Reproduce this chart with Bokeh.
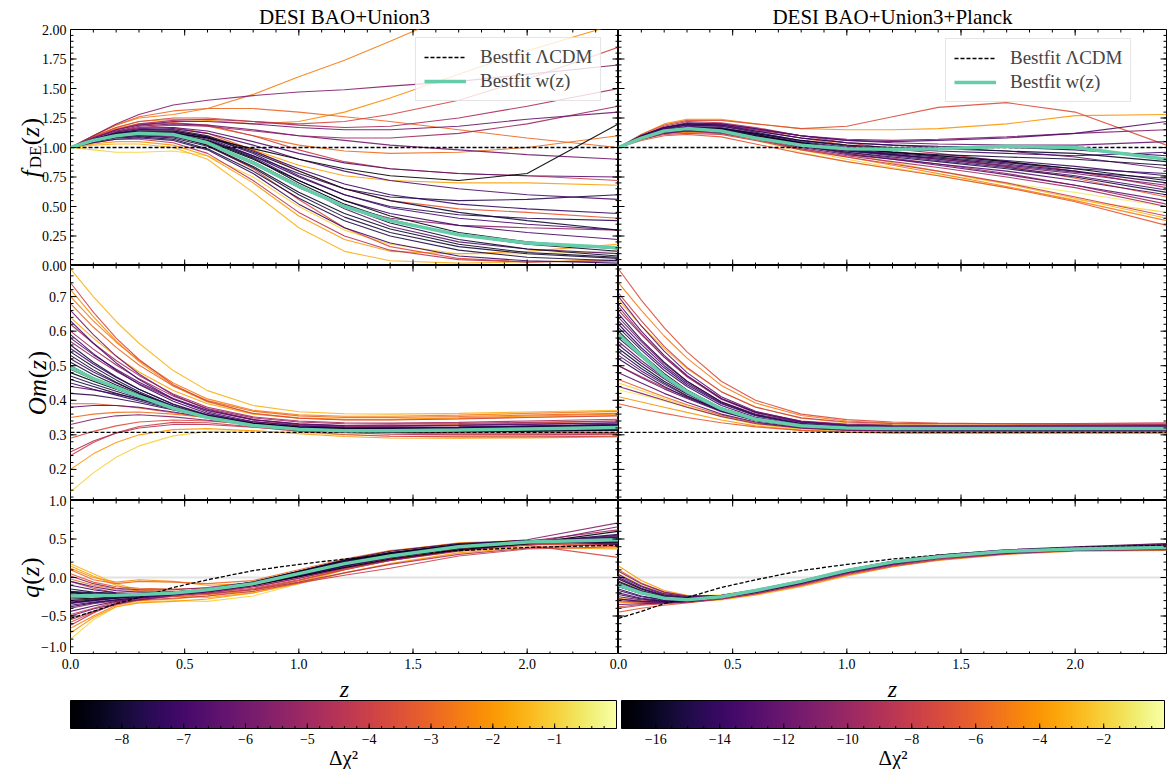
import numpy as np
from bokeh.plotting import figure
from bokeh.models import (Range1d, Legend, LegendItem, ColumnDataSource, LinearColorMapper, Span)
from bokeh.core.properties import value
from bokeh.palettes import Inferno256
from bokeh.layouts import column, row
from bokeh.transform import linear_cmap
from bokeh.embed import file_html
from bokeh.resources import INLINE

SERIF = "Liberation Serif"
TEAL = "#66CDAA"

# redshift sampling shared by every curve
z_grid = [0.0, 0.1, 0.2, 0.3, 0.45, 0.6, 0.8, 1.0, 1.2, 1.4, 1.7, 2.0, 2.4]

# ---------------- DESI BAO+Union3 ----------------
dchi2_u3 = [-8.6, -8.3, -8.0, -7.8, -7.5, -7.2, -8.8, -6.8, -6.5, -6.0, -5.6, -5.0, -4.5, -3.8,
            -3.0, -2.5, -1.5, -2.0, -1.0, -4.0, -7.0, -6.2, -3.3, -5.3, -8.1, -7.6, -8.4, -7.9,
            -7.3, -6.6, -2.2, -3.6, -4.8, -2.8, -6.9, -1.8]

fde_u3 = [
    [1.00, 1.06, 1.10, 1.12, 1.11, 1.05, 0.90, 0.72, 0.55, 0.42, 0.28, 0.20, 0.14],
    [1.00, 1.05, 1.09, 1.11, 1.10, 1.02, 0.84, 0.62, 0.44, 0.31, 0.18, 0.11, 0.07],
    [1.00, 1.07, 1.12, 1.14, 1.14, 1.09, 0.96, 0.80, 0.65, 0.55, 0.45, 0.38, 0.30],
    [1.00, 1.05, 1.08, 1.09, 1.07, 0.99, 0.80, 0.57, 0.38, 0.25, 0.13, 0.07, 0.04],
    [1.00, 1.06, 1.11, 1.13, 1.13, 1.08, 0.93, 0.75, 0.60, 0.50, 0.43, 0.40, 0.38],
    [1.00, 1.04, 1.07, 1.08, 1.06, 0.98, 0.78, 0.52, 0.32, 0.19, 0.08, 0.04, 0.02],
    [1.00, 1.06, 1.10, 1.12, 1.12, 1.08, 0.99, 0.90, 0.82, 0.76, 0.72, 0.78, 1.20],
    [1.00, 1.07, 1.12, 1.15, 1.16, 1.12, 1.02, 0.90, 0.80, 0.72, 0.65, 0.60, 0.56],
    [1.00, 1.05, 1.09, 1.10, 1.09, 1.03, 0.88, 0.68, 0.48, 0.33, 0.20, 0.14, 0.10],
    [1.00, 1.08, 1.14, 1.18, 1.20, 1.19, 1.15, 1.10, 1.06, 1.02, 0.98, 0.94, 0.90],
    [1.00, 1.10, 1.20, 1.28, 1.36, 1.40, 1.44, 1.47, 1.49, 1.52, 1.56, 1.62, 1.70],
    [1.00, 1.07, 1.13, 1.17, 1.19, 1.18, 1.14, 1.10, 1.08, 1.08, 1.12, 1.20, 1.35],
    [1.00, 1.04, 1.07, 1.07, 1.04, 0.95, 0.72, 0.45, 0.25, 0.13, 0.05, 0.03, 0.04],
    [1.00, 1.09, 1.17, 1.22, 1.25, 1.25, 1.22, 1.20, 1.22, 1.28, 1.40, 1.58, 1.85],
    [1.00, 1.10, 1.19, 1.26, 1.31, 1.33, 1.33, 1.30, 1.26, 1.22, 1.15, 1.08, 1.00],
    [1.00, 1.10, 1.19, 1.25, 1.28, 1.33, 1.45, 1.60, 1.74, 1.90, 2.15, 2.40, 2.70],
    [1.00, 1.02, 1.03, 1.03, 1.00, 0.90, 0.62, 0.32, 0.12, 0.04, 0.02, 0.03, 0.05],
    [1.00, 1.03, 1.05, 1.05, 1.02, 0.93, 0.70, 0.42, 0.22, 0.12, 0.10, 0.12, 0.18],
    [1.00, 0.98, 0.96, 0.96, 0.97, 0.93, 0.75, 0.50, 0.30, 0.18, 0.10, 0.10, 0.12],
    [1.00, 1.08, 1.15, 1.19, 1.21, 1.19, 1.10, 0.98, 0.88, 0.82, 0.78, 0.76, 0.72],
    [1.00, 1.06, 1.11, 1.13, 1.13, 1.07, 0.92, 0.72, 0.55, 0.44, 0.34, 0.28, 0.22],
    [1.00, 1.08, 1.15, 1.19, 1.22, 1.22, 1.20, 1.17, 1.15, 1.15, 1.18, 1.24, 1.30],
    [1.00, 1.08, 1.14, 1.17, 1.17, 1.12, 0.98, 0.80, 0.65, 0.55, 0.48, 0.45, 0.40],
    [1.00, 1.06, 1.10, 1.12, 1.10, 1.03, 0.86, 0.66, 0.50, 0.40, 0.34, 0.32, 0.30],
    [1.00, 1.05, 1.09, 1.11, 1.10, 1.04, 0.88, 0.68, 0.50, 0.36, 0.22, 0.14, 0.08],
    [1.00, 1.06, 1.10, 1.12, 1.11, 1.06, 0.93, 0.78, 0.65, 0.58, 0.55, 0.56, 0.60],
    [1.00, 1.06, 1.11, 1.13, 1.12, 1.06, 0.91, 0.70, 0.52, 0.39, 0.26, 0.18, 0.12],
    [1.00, 1.05, 1.09, 1.10, 1.08, 1.01, 0.83, 0.60, 0.41, 0.28, 0.16, 0.10, 0.06],
    [1.00, 1.07, 1.12, 1.15, 1.15, 1.10, 0.97, 0.82, 0.69, 0.60, 0.52, 0.48, 0.44],
    [1.00, 1.07, 1.13, 1.16, 1.17, 1.14, 1.05, 0.95, 0.87, 0.82, 0.78, 0.76, 0.75],
    [1.00, 1.09, 1.17, 1.22, 1.24, 1.23, 1.20, 1.22, 1.30, 1.42, 1.62, 1.82, 2.05],
    [1.00, 1.06, 1.10, 1.12, 1.10, 1.02, 0.82, 0.56, 0.32, 0.16, 0.06, 0.03, 0.04],
    [1.00, 1.08, 1.15, 1.20, 1.23, 1.24, 1.22, 1.19, 1.17, 1.18, 1.25, 1.35, 1.50],
    [1.00, 1.09, 1.16, 1.20, 1.21, 1.18, 1.10, 1.02, 0.97, 0.95, 0.96, 1.00, 1.10],
    [1.00, 1.06, 1.11, 1.14, 1.14, 1.09, 0.95, 0.76, 0.60, 0.49, 0.40, 0.35, 0.30],
    [1.00, 1.07, 1.12, 1.15, 1.15, 1.10, 0.98, 0.85, 0.76, 0.72, 0.70, 0.70, 0.68],
]

om_u3 = [
    [0.50, 0.465, 0.438, 0.413, 0.378, 0.350, 0.326, 0.315, 0.311, 0.311, 0.313, 0.316, 0.320],
    [0.53, 0.488, 0.452, 0.420, 0.380, 0.350, 0.325, 0.313, 0.308, 0.307, 0.308, 0.310, 0.313],
    [0.46, 0.440, 0.420, 0.402, 0.376, 0.352, 0.332, 0.322, 0.318, 0.318, 0.320, 0.323, 0.327],
    [0.56, 0.510, 0.468, 0.432, 0.388, 0.356, 0.330, 0.318, 0.312, 0.310, 0.310, 0.312, 0.315],
    [0.42, 0.415, 0.405, 0.393, 0.372, 0.352, 0.334, 0.324, 0.320, 0.320, 0.322, 0.325, 0.329],
    [0.59, 0.535, 0.487, 0.446, 0.397, 0.362, 0.334, 0.320, 0.314, 0.312, 0.313, 0.315, 0.318],
    [0.48, 0.455, 0.432, 0.410, 0.380, 0.355, 0.333, 0.322, 0.317, 0.315, 0.314, 0.315, 0.316],
    [0.63, 0.565, 0.508, 0.460, 0.404, 0.366, 0.338, 0.326, 0.321, 0.320, 0.322, 0.325, 0.330],
    [0.38, 0.385, 0.385, 0.380, 0.366, 0.350, 0.333, 0.322, 0.316, 0.314, 0.314, 0.316, 0.318],
    [0.66, 0.590, 0.528, 0.476, 0.415, 0.374, 0.344, 0.331, 0.326, 0.325, 0.327, 0.330, 0.334],
    [0.33, 0.345, 0.355, 0.358, 0.352, 0.342, 0.330, 0.322, 0.318, 0.317, 0.318, 0.321, 0.325],
    [0.60, 0.548, 0.502, 0.462, 0.412, 0.376, 0.349, 0.337, 0.332, 0.331, 0.333, 0.336, 0.340],
    [0.25, 0.282, 0.305, 0.320, 0.330, 0.330, 0.322, 0.313, 0.306, 0.302, 0.300, 0.300, 0.302],
    [0.74, 0.655, 0.580, 0.518, 0.445, 0.397, 0.362, 0.348, 0.343, 0.343, 0.346, 0.350, 0.355],
    [0.68, 0.612, 0.553, 0.502, 0.441, 0.399, 0.368, 0.355, 0.350, 0.350, 0.353, 0.357, 0.362],
    [0.70, 0.630, 0.568, 0.515, 0.450, 0.404, 0.371, 0.358, 0.354, 0.354, 0.357, 0.362, 0.368],
    [0.78, 0.700, 0.628, 0.565, 0.486, 0.428, 0.385, 0.367, 0.361, 0.360, 0.362, 0.366, 0.371],
    [0.20, 0.245, 0.278, 0.300, 0.315, 0.318, 0.312, 0.303, 0.295, 0.291, 0.290, 0.291, 0.294],
    [0.135, 0.190, 0.235, 0.268, 0.297, 0.310, 0.312, 0.306, 0.300, 0.297, 0.296, 0.297, 0.300],
    [0.24, 0.278, 0.306, 0.324, 0.336, 0.335, 0.323, 0.310, 0.301, 0.296, 0.294, 0.294, 0.296],
    [0.52, 0.482, 0.450, 0.420, 0.384, 0.356, 0.332, 0.320, 0.315, 0.313, 0.314, 0.316, 0.319],
    [0.44, 0.430, 0.418, 0.404, 0.380, 0.358, 0.338, 0.327, 0.322, 0.321, 0.322, 0.325, 0.329],
    [0.39, 0.390, 0.385, 0.378, 0.364, 0.349, 0.333, 0.321, 0.312, 0.306, 0.302, 0.302, 0.304],
    [0.57, 0.525, 0.484, 0.448, 0.403, 0.370, 0.343, 0.330, 0.324, 0.322, 0.323, 0.326, 0.330],
    [0.51, 0.474, 0.444, 0.417, 0.380, 0.352, 0.328, 0.317, 0.312, 0.311, 0.312, 0.315, 0.318],
    [0.47, 0.447, 0.426, 0.406, 0.377, 0.352, 0.331, 0.320, 0.316, 0.315, 0.316, 0.319, 0.323],
    [0.49, 0.460, 0.435, 0.411, 0.378, 0.351, 0.328, 0.317, 0.313, 0.312, 0.313, 0.316, 0.319],
    [0.54, 0.497, 0.459, 0.425, 0.383, 0.352, 0.327, 0.315, 0.310, 0.309, 0.310, 0.312, 0.315],
    [0.45, 0.432, 0.415, 0.398, 0.374, 0.352, 0.333, 0.323, 0.319, 0.318, 0.320, 0.323, 0.327],
    [0.58, 0.532, 0.490, 0.452, 0.405, 0.371, 0.344, 0.332, 0.327, 0.326, 0.328, 0.331, 0.335],
    [0.72, 0.642, 0.572, 0.512, 0.441, 0.395, 0.362, 0.349, 0.345, 0.345, 0.349, 0.354, 0.360],
    [0.29, 0.310, 0.326, 0.337, 0.343, 0.340, 0.330, 0.320, 0.312, 0.307, 0.305, 0.305, 0.307],
    [0.62, 0.565, 0.515, 0.472, 0.418, 0.380, 0.352, 0.340, 0.335, 0.334, 0.336, 0.340, 0.345],
    [0.35, 0.360, 0.365, 0.366, 0.360, 0.350, 0.338, 0.330, 0.326, 0.326, 0.330, 0.334, 0.340],
    [0.55, 0.505, 0.466, 0.432, 0.389, 0.358, 0.333, 0.321, 0.316, 0.314, 0.315, 0.318, 0.322],
    [0.64, 0.580, 0.527, 0.482, 0.428, 0.390, 0.360, 0.348, 0.344, 0.344, 0.347, 0.351, 0.356],
]

q_u3 = [
    [-0.26, -0.25, -0.24, -0.22, -0.20, -0.16, -0.08, 0.05, 0.19, 0.30, 0.41, 0.46, 0.49],
    [-0.20, -0.22, -0.22, -0.21, -0.19, -0.15, -0.06, 0.08, 0.22, 0.32, 0.42, 0.47, 0.47],
    [-0.32, -0.29, -0.27, -0.24, -0.21, -0.17, -0.09, 0.03, 0.16, 0.27, 0.38, 0.44, 0.50],
    [-0.15, -0.19, -0.21, -0.21, -0.20, -0.16, -0.07, 0.07, 0.21, 0.32, 0.43, 0.48, 0.45],
    [-0.38, -0.33, -0.29, -0.26, -0.22, -0.18, -0.10, 0.02, 0.15, 0.26, 0.38, 0.45, 0.56],
    [-0.10, -0.16, -0.20, -0.21, -0.21, -0.17, -0.07, 0.08, 0.23, 0.34, 0.44, 0.48, 0.43],
    [-0.28, -0.27, -0.25, -0.23, -0.20, -0.17, -0.10, 0.01, 0.13, 0.24, 0.36, 0.44, 0.60],
    [-0.44, -0.37, -0.31, -0.27, -0.22, -0.17, -0.08, 0.04, 0.17, 0.28, 0.40, 0.47, 0.52],
    [-0.05, -0.12, -0.17, -0.19, -0.19, -0.16, -0.08, 0.06, 0.20, 0.31, 0.42, 0.48, 0.52],
    [-0.50, -0.41, -0.34, -0.29, -0.23, -0.18, -0.10, 0.01, 0.13, 0.23, 0.35, 0.44, 0.66],
    [0.02, -0.08, -0.14, -0.16, -0.16, -0.13, -0.06, 0.06, 0.20, 0.31, 0.42, 0.49, 0.71],
    [-0.55, -0.44, -0.35, -0.29, -0.24, -0.20, -0.12, -0.01, 0.12, 0.23, 0.36, 0.43, 0.47],
    [-0.62, -0.46, -0.33, -0.26, -0.22, -0.21, -0.16, -0.06, 0.06, 0.17, 0.30, 0.38, 0.44],
    [-0.05, -0.14, -0.20, -0.22, -0.22, -0.20, -0.14, -0.03, 0.10, 0.22, 0.34, 0.42, 0.26],
    [0.10, -0.03, -0.08, -0.05, -0.06, -0.08, -0.04, 0.10, 0.24, 0.35, 0.44, 0.47, 0.42],
    [-0.66, -0.50, -0.36, -0.30, -0.28, -0.24, -0.16, -0.04, 0.11, 0.24, 0.37, 0.44, 0.40],
    [0.18, 0.05, -0.08, -0.16, -0.20, -0.22, -0.18, -0.04, 0.12, 0.26, 0.44, 0.48, 0.46],
    [-0.72, -0.52, -0.38, -0.33, -0.31, -0.28, -0.20, -0.08, 0.06, 0.18, 0.32, 0.39, 0.37],
    [-0.80, -0.55, -0.38, -0.32, -0.30, -0.31, -0.24, -0.08, 0.10, 0.22, 0.34, 0.40, 0.38],
    [-0.48, -0.40, -0.32, -0.29, -0.27, -0.24, -0.18, -0.07, 0.03, 0.12, 0.28, 0.37, 0.40],
    [-0.22, -0.23, -0.23, -0.22, -0.20, -0.16, -0.07, 0.06, 0.20, 0.31, 0.42, 0.47, 0.48],
    [-0.34, -0.30, -0.27, -0.25, -0.22, -0.18, -0.10, 0.03, 0.17, 0.28, 0.39, 0.46, 0.54],
    [0.05, -0.06, -0.12, -0.14, -0.15, -0.14, -0.08, 0.05, 0.18, 0.30, 0.41, 0.46, 0.44],
    [-0.40, -0.34, -0.30, -0.27, -0.23, -0.19, -0.12, -0.01, 0.12, 0.22, 0.35, 0.44, 0.50],
    [-0.24, -0.24, -0.23, -0.22, -0.20, -0.16, -0.08, 0.05, 0.18, 0.29, 0.40, 0.46, 0.50],
    [-0.18, -0.20, -0.21, -0.21, -0.19, -0.15, -0.07, 0.07, 0.20, 0.31, 0.41, 0.46, 0.47],
    [-0.25, -0.24, -0.235, -0.22, -0.20, -0.16, -0.08, 0.05, 0.19, 0.30, 0.40, 0.46, 0.49],
    [-0.19, -0.21, -0.22, -0.21, -0.20, -0.15, -0.06, 0.08, 0.22, 0.32, 0.42, 0.47, 0.46],
    [-0.33, -0.30, -0.27, -0.25, -0.22, -0.18, -0.10, 0.02, 0.15, 0.26, 0.38, 0.45, 0.53],
    [-0.36, -0.32, -0.29, -0.26, -0.22, -0.18, -0.10, 0.02, 0.15, 0.26, 0.38, 0.45, 0.55],
    [0.12, 0.00, -0.06, -0.03, -0.05, -0.10, -0.08, 0.06, 0.22, 0.34, 0.45, 0.48, 0.45],
    [-0.58, -0.45, -0.34, -0.28, -0.25, -0.22, -0.15, -0.04, 0.10, 0.22, 0.36, 0.43, 0.42],
    [-0.30, -0.28, -0.26, -0.24, -0.21, -0.18, -0.11, 0.01, 0.14, 0.25, 0.38, 0.47, 0.62],
    [-0.02, -0.10, -0.15, -0.17, -0.18, -0.16, -0.10, 0.03, 0.17, 0.28, 0.40, 0.47, 0.50],
    [-0.30, -0.28, -0.26, -0.24, -0.21, -0.17, -0.09, 0.03, 0.16, 0.27, 0.39, 0.45, 0.51],
    [0.15, 0.02, -0.10, -0.18, -0.24, -0.26, -0.20, -0.06, 0.10, 0.24, 0.40, 0.47, 0.47],
]

best_fde_u3 = [1.00, 1.06, 1.10, 1.12, 1.11, 1.04, 0.87, 0.67, 0.50, 0.38, 0.26, 0.19, 0.15]
best_om_u3 = [0.495, 0.463, 0.437, 0.412, 0.377, 0.350, 0.327, 0.316, 0.312, 0.312, 0.314, 0.317, 0.321]
best_q_u3 = [-0.24, -0.235, -0.23, -0.22, -0.20, -0.16, -0.08, 0.05, 0.18, 0.28, 0.40, 0.46, 0.49]

# ---------------- DESI BAO+Union3+Planck ----------------
dchi2_u3p = [-16.5, -15.8, -15.0, -14.5, -14.0, -13.5, -13.0, -12.5, -12.0, -11.5, -11.0, -10.0,
             -9.0, -8.0, -7.0, -6.0, -5.0, -4.0, -3.0, -2.0, -1.0, -15.5, -14.8, -13.8, -12.8,
             -6.5, -14.2, -13.2, -12.2, -9.5]

fde_u3p = [
    [1.00, 1.08, 1.14, 1.16, 1.15, 1.10, 1.04, 0.99, 0.96, 0.93, 0.88, 0.82, 0.72],
    [1.00, 1.09, 1.15, 1.17, 1.16, 1.12, 1.06, 1.02, 1.00, 0.99, 0.97, 0.95, 0.88],
    [1.00, 1.08, 1.13, 1.15, 1.13, 1.08, 1.01, 0.96, 0.92, 0.88, 0.82, 0.75, 0.62],
    [1.00, 1.10, 1.17, 1.20, 1.19, 1.14, 1.08, 1.04, 1.02, 1.01, 1.00, 0.98, 0.93],
    [1.00, 1.09, 1.15, 1.18, 1.17, 1.12, 1.05, 1.00, 0.96, 0.93, 0.89, 0.84, 0.76],
    [1.00, 1.08, 1.14, 1.16, 1.15, 1.10, 1.03, 0.97, 0.93, 0.89, 0.83, 0.76, 0.64],
    [1.00, 1.10, 1.17, 1.21, 1.20, 1.16, 1.10, 1.06, 1.05, 1.06, 1.08, 1.12, 1.22],
    [1.00, 1.07, 1.12, 1.14, 1.13, 1.08, 1.01, 0.95, 0.90, 0.85, 0.77, 0.68, 0.55],
    [1.00, 1.09, 1.16, 1.19, 1.18, 1.14, 1.08, 1.04, 1.02, 1.00, 0.97, 0.92, 0.82],
    [1.00, 1.08, 1.14, 1.17, 1.16, 1.11, 1.04, 0.98, 0.94, 0.90, 0.84, 0.78, 0.68],
    [1.00, 1.09, 1.16, 1.19, 1.19, 1.15, 1.10, 1.07, 1.06, 1.07, 1.09, 1.12, 1.15],
    [1.00, 1.08, 1.13, 1.15, 1.14, 1.09, 1.02, 0.96, 0.91, 0.86, 0.78, 0.68, 0.52],
    [1.00, 1.10, 1.18, 1.22, 1.21, 1.17, 1.10, 1.04, 0.99, 0.95, 0.88, 0.80, 0.66],
    [1.00, 1.07, 1.11, 1.12, 1.11, 1.06, 0.98, 0.92, 0.86, 0.80, 0.70, 0.58, 0.42],
    [1.00, 1.11, 1.19, 1.23, 1.23, 1.20, 1.16, 1.18, 1.26, 1.34, 1.38, 1.30, 1.02],
    [1.00, 1.10, 1.17, 1.20, 1.19, 1.15, 1.08, 1.02, 0.97, 0.92, 0.84, 0.74, 0.58],
    [1.00, 1.07, 1.12, 1.13, 1.12, 1.07, 0.99, 0.92, 0.85, 0.78, 0.67, 0.55, 0.38],
    [1.00, 1.11, 1.20, 1.24, 1.24, 1.20, 1.16, 1.15, 1.15, 1.16, 1.20, 1.27, 1.28],
    [1.00, 1.09, 1.15, 1.17, 1.16, 1.11, 1.03, 0.95, 0.87, 0.80, 0.69, 0.57, 0.40],
    [1.00, 1.08, 1.13, 1.15, 1.14, 1.08, 0.98, 0.90, 0.83, 0.76, 0.66, 0.56, 0.45],
    [1.00, 1.07, 1.12, 1.13, 1.12, 1.06, 0.96, 0.88, 0.82, 0.77, 0.70, 0.62, 0.50],
    [1.00, 1.09, 1.15, 1.17, 1.16, 1.11, 1.04, 0.99, 0.96, 0.94, 0.92, 0.90, 0.85],
    [1.00, 1.08, 1.13, 1.15, 1.14, 1.09, 1.02, 0.97, 0.94, 0.91, 0.86, 0.80, 0.70],
    [1.00, 1.09, 1.16, 1.19, 1.18, 1.13, 1.06, 1.01, 0.99, 0.97, 0.95, 0.93, 0.96],
    [1.00, 1.08, 1.14, 1.16, 1.15, 1.10, 1.03, 0.98, 0.94, 0.90, 0.85, 0.79, 0.74],
    [1.00, 1.06, 1.10, 1.11, 1.09, 1.03, 0.95, 0.88, 0.82, 0.76, 0.66, 0.54, 0.34],
    [1.00, 1.09, 1.15, 1.17, 1.16, 1.11, 1.04, 0.98, 0.95, 0.92, 0.87, 0.82, 0.78],
    [1.00, 1.08, 1.13, 1.15, 1.13, 1.08, 1.00, 0.94, 0.90, 0.86, 0.80, 0.72, 0.60],
    [1.00, 1.10, 1.17, 1.20, 1.20, 1.16, 1.10, 1.06, 1.04, 1.03, 1.02, 1.02, 1.05],
    [1.00, 1.07, 1.12, 1.14, 1.12, 1.07, 0.99, 0.93, 0.88, 0.83, 0.75, 0.66, 0.50],
]

om_u3p = [
    [0.60, 0.535, 0.478, 0.430, 0.378, 0.347, 0.327, 0.320, 0.318, 0.318, 0.318, 0.318, 0.318],
    [0.55, 0.500, 0.455, 0.418, 0.372, 0.343, 0.325, 0.318, 0.316, 0.316, 0.316, 0.316, 0.316],
    [0.65, 0.575, 0.510, 0.455, 0.395, 0.358, 0.333, 0.324, 0.321, 0.320, 0.320, 0.320, 0.321],
    [0.52, 0.478, 0.440, 0.408, 0.368, 0.342, 0.324, 0.317, 0.315, 0.315, 0.315, 0.315, 0.315],
    [0.62, 0.552, 0.494, 0.445, 0.390, 0.355, 0.331, 0.322, 0.320, 0.319, 0.319, 0.319, 0.320],
    [0.68, 0.600, 0.530, 0.472, 0.405, 0.365, 0.337, 0.327, 0.324, 0.323, 0.323, 0.323, 0.324],
    [0.48, 0.450, 0.420, 0.394, 0.360, 0.337, 0.321, 0.315, 0.313, 0.313, 0.313, 0.313, 0.313],
    [0.70, 0.615, 0.542, 0.480, 0.410, 0.368, 0.339, 0.329, 0.326, 0.325, 0.325, 0.326, 0.327],
    [0.57, 0.515, 0.466, 0.425, 0.376, 0.345, 0.326, 0.319, 0.317, 0.317, 0.317, 0.317, 0.317],
    [0.64, 0.570, 0.506, 0.455, 0.396, 0.360, 0.336, 0.327, 0.324, 0.323, 0.323, 0.323, 0.324],
    [0.44, 0.420, 0.400, 0.380, 0.353, 0.333, 0.319, 0.313, 0.311, 0.311, 0.311, 0.311, 0.311],
    [0.66, 0.590, 0.525, 0.470, 0.405, 0.366, 0.340, 0.331, 0.328, 0.327, 0.327, 0.328, 0.330],
    [0.50, 0.468, 0.437, 0.410, 0.372, 0.346, 0.329, 0.322, 0.320, 0.319, 0.319, 0.320, 0.321],
    [0.71, 0.630, 0.556, 0.495, 0.425, 0.380, 0.349, 0.337, 0.333, 0.332, 0.332, 0.333, 0.335],
    [0.78, 0.690, 0.610, 0.540, 0.455, 0.400, 0.360, 0.344, 0.337, 0.334, 0.332, 0.331, 0.331],
    [0.46, 0.435, 0.410, 0.387, 0.357, 0.335, 0.320, 0.313, 0.311, 0.310, 0.310, 0.310, 0.310],
    [0.74, 0.660, 0.586, 0.522, 0.443, 0.392, 0.356, 0.340, 0.334, 0.332, 0.331, 0.331, 0.332],
    [0.41, 0.395, 0.380, 0.365, 0.343, 0.326, 0.313, 0.307, 0.305, 0.305, 0.305, 0.305, 0.305],
    [0.69, 0.615, 0.550, 0.492, 0.425, 0.381, 0.348, 0.335, 0.330, 0.328, 0.327, 0.327, 0.328],
    [0.45, 0.428, 0.405, 0.383, 0.353, 0.331, 0.316, 0.309, 0.307, 0.306, 0.306, 0.306, 0.306],
    [0.43, 0.415, 0.398, 0.380, 0.352, 0.331, 0.315, 0.308, 0.305, 0.304, 0.304, 0.304, 0.305],
    [0.58, 0.525, 0.470, 0.428, 0.377, 0.346, 0.326, 0.319, 0.317, 0.317, 0.317, 0.317, 0.317],
    [0.54, 0.492, 0.450, 0.413, 0.370, 0.342, 0.324, 0.317, 0.315, 0.315, 0.315, 0.315, 0.315],
    [0.61, 0.545, 0.487, 0.440, 0.385, 0.351, 0.329, 0.321, 0.319, 0.318, 0.318, 0.318, 0.319],
    [0.53, 0.485, 0.446, 0.412, 0.370, 0.343, 0.325, 0.318, 0.316, 0.316, 0.316, 0.316, 0.316],
    [0.39, 0.375, 0.362, 0.350, 0.335, 0.323, 0.313, 0.308, 0.306, 0.306, 0.306, 0.306, 0.306],
    [0.56, 0.508, 0.462, 0.422, 0.374, 0.344, 0.325, 0.318, 0.316, 0.316, 0.316, 0.316, 0.317],
    [0.63, 0.562, 0.500, 0.450, 0.392, 0.357, 0.333, 0.324, 0.321, 0.320, 0.320, 0.321, 0.322],
    [0.50, 0.465, 0.433, 0.405, 0.367, 0.341, 0.323, 0.316, 0.314, 0.314, 0.314, 0.314, 0.314],
    [0.67, 0.593, 0.525, 0.468, 0.403, 0.364, 0.337, 0.328, 0.325, 0.324, 0.324, 0.325, 0.327],
]

q_u3p = [
    [-0.12, -0.21, -0.27, -0.29, -0.25, -0.17, -0.05, 0.09, 0.20, 0.27, 0.34, 0.37, 0.39],
    [-0.05, -0.17, -0.25, -0.28, -0.25, -0.18, -0.06, 0.08, 0.19, 0.27, 0.34, 0.38, 0.40],
    [-0.22, -0.28, -0.31, -0.31, -0.26, -0.18, -0.05, 0.10, 0.21, 0.28, 0.34, 0.37, 0.38],
    [0.00, -0.14, -0.23, -0.26, -0.24, -0.17, -0.05, 0.09, 0.20, 0.28, 0.35, 0.39, 0.41],
    [-0.17, -0.25, -0.29, -0.30, -0.26, -0.19, -0.07, 0.07, 0.18, 0.26, 0.33, 0.37, 0.39],
    [-0.28, -0.31, -0.32, -0.31, -0.26, -0.18, -0.06, 0.09, 0.20, 0.27, 0.33, 0.36, 0.37],
    [0.04, -0.11, -0.21, -0.25, -0.23, -0.16, -0.04, 0.10, 0.21, 0.29, 0.36, 0.40, 0.44],
    [-0.35, -0.34, -0.33, -0.31, -0.26, -0.19, -0.07, 0.08, 0.19, 0.26, 0.32, 0.35, 0.36],
    [-0.08, -0.19, -0.26, -0.28, -0.25, -0.18, -0.06, 0.08, 0.19, 0.27, 0.34, 0.38, 0.40],
    [-0.25, -0.29, -0.31, -0.30, -0.26, -0.19, -0.08, 0.06, 0.17, 0.25, 0.32, 0.36, 0.38],
    [0.08, -0.08, -0.19, -0.24, -0.23, -0.17, -0.05, 0.09, 0.20, 0.28, 0.35, 0.39, 0.43],
    [-0.30, -0.32, -0.33, -0.32, -0.28, -0.21, -0.09, 0.05, 0.16, 0.24, 0.31, 0.35, 0.37],
    [-0.02, -0.15, -0.24, -0.27, -0.25, -0.19, -0.08, 0.06, 0.17, 0.25, 0.33, 0.37, 0.40],
    [-0.40, -0.36, -0.34, -0.32, -0.28, -0.21, -0.10, 0.04, 0.15, 0.23, 0.31, 0.35, 0.37],
    [-0.38, -0.35, -0.33, -0.31, -0.26, -0.18, -0.07, 0.07, 0.18, 0.26, 0.33, 0.37, 0.42],
    [0.10, -0.07, -0.19, -0.24, -0.24, -0.19, -0.08, 0.06, 0.17, 0.25, 0.33, 0.38, 0.42],
    [-0.32, -0.33, -0.33, -0.32, -0.28, -0.22, -0.11, 0.03, 0.14, 0.22, 0.30, 0.34, 0.35],
    [0.15, -0.04, -0.17, -0.23, -0.24, -0.19, -0.07, 0.07, 0.18, 0.26, 0.34, 0.39, 0.44],
    [-0.27, -0.30, -0.32, -0.32, -0.29, -0.23, -0.12, 0.02, 0.14, 0.23, 0.31, 0.35, 0.35],
    [0.05, -0.10, -0.20, -0.24, -0.23, -0.17, -0.06, 0.08, 0.19, 0.27, 0.35, 0.38, 0.40],
    [-0.05, -0.15, -0.22, -0.24, -0.22, -0.16, -0.05, 0.09, 0.20, 0.28, 0.35, 0.38, 0.39],
    [-0.10, -0.20, -0.26, -0.28, -0.25, -0.18, -0.06, 0.08, 0.19, 0.27, 0.34, 0.37, 0.39],
    [-0.02, -0.15, -0.24, -0.27, -0.24, -0.17, -0.05, 0.09, 0.20, 0.28, 0.35, 0.38, 0.40],
    [-0.15, -0.24, -0.29, -0.30, -0.26, -0.19, -0.07, 0.08, 0.19, 0.27, 0.34, 0.37, 0.38],
    [-0.06, -0.18, -0.25, -0.28, -0.25, -0.18, -0.06, 0.08, 0.19, 0.27, 0.34, 0.38, 0.40],
    [-0.45, -0.40, -0.36, -0.33, -0.28, -0.20, -0.08, 0.06, 0.17, 0.25, 0.33, 0.37, 0.39],
    [-0.09, -0.19, -0.26, -0.28, -0.25, -0.18, -0.06, 0.08, 0.19, 0.27, 0.34, 0.37, 0.38],
    [-0.20, -0.27, -0.30, -0.30, -0.26, -0.19, -0.07, 0.08, 0.19, 0.26, 0.33, 0.36, 0.37],
    [0.02, -0.12, -0.22, -0.26, -0.24, -0.17, -0.05, 0.09, 0.21, 0.29, 0.36, 0.39, 0.42],
    [-0.28, -0.31, -0.32, -0.31, -0.27, -0.20, -0.08, 0.06, 0.17, 0.25, 0.32, 0.36, 0.37],
]

best_fde_u3p = [1.00, 1.08, 1.14, 1.16, 1.14, 1.08, 1.02, 0.99, 0.985, 0.99, 1.01, 1.00, 0.90]
best_om_u3p = [0.59, 0.53, 0.47, 0.425, 0.375, 0.345, 0.326, 0.320, 0.318, 0.318, 0.318, 0.318, 0.318]
best_q_u3p = [-0.10, -0.20, -0.27, -0.29, -0.25, -0.17, -0.05, 0.09, 0.20, 0.27, 0.34, 0.37, 0.39]

# best-fit LCDM reference curves
lcdm_fde = [1.0, 1.0, 1.0, 1.0, 1.0, 1.0, 1.0, 1.0, 1.0, 1.0, 1.0, 1.0, 1.0]
lcdm_om = [0.307, 0.307, 0.307, 0.307, 0.307, 0.307, 0.307, 0.307, 0.307, 0.307, 0.307, 0.307, 0.307]
lcdm_q = [-0.53, -0.44, -0.34, -0.26, -0.13, -0.03, 0.09, 0.17, 0.24, 0.29, 0.35, 0.39, 0.42]

# colour scale limits of the two colour bars
cbar_u3 = (-8.83, 0.0)
cbar_u3p = (-17.07, -0.1)
cbar_ticks_u3 = [-8, -7, -6, -5, -4, -3, -2, -1]
cbar_ticks_u3p = [-16, -14, -12, -10, -8, -6, -4, -2]

titles = ["DESI BAO+Union3", "DESI BAO+Union3+Planck"]

# ---------------- page geometry (pixels) ----------------
W_TOTAL, H_TOTAL = 1167, 769
LEFT_W = 70                    # strip with the y tick labels and y titles
PANEL_W = 548
PANELS_Y = [(29, 265), (265, 500), (500, 654)]   # frame top/bottom of each row
TOP_H = 654
BOTTOM_H = H_TOTAL - TOP_H
CBAR_X = [(70, 616), (621, 1164)]
Z_MAX = 2.4


def fmt(v, nd):
    return f"{v:.{nd}f}".replace("-", "\u2212")


def minor_list(lo, hi, step):
    n0 = int(np.ceil(lo / step - 1e-9))
    n1 = int(np.floor(hi / step + 1e-9))
    return [round(k * step, 6) for k in range(n0, n1 + 1)]


def txt(p, x, y, text, size, align="center", baseline="middle", style="normal", angle=0.0,
        **kw):
    p.text(x=x, y=y, text=text, angle=angle, text_font=value(SERIF),
           text_font_size=value(f"{size}px"), text_font_style=value(style),
           text_align=value(align), text_baseline=value(baseline), text_color="black", **kw)


X_MAJ = [0.0, 0.5, 1.0, 1.5, 2.0]
X_MIN = minor_list(0.0, Z_MAX, 0.1)

ROWS = [
    dict(name="fde", yr=(0.0, 2.0), maj=[0.0, 0.25, 0.5, 0.75, 1.0, 1.25, 1.5, 1.75, 2.0],
         step=0.05, nd=2,
         label=[("f", 25, "italic", 9, 0), ("DE", 17, "normal", 23, 5),
                ("(", 25, "normal", 8.5, 0), ("z", 25, "italic", 10.5, 0), (")", 25, "normal", 8.5, 0)],
         lab_x=30),
    dict(name="om", yr=(0.11, 0.79), maj=[0.2, 0.3, 0.4, 0.5, 0.6, 0.7], step=0.02, nd=1,
         label=[("Om", 25, "italic", 37, 0), ("(", 25, "normal", 8.5, 0),
                ("z", 25, "italic", 10.5, 0), (")", 25, "normal", 8.5, 0)],
         lab_x=37),
    dict(name="q", yr=(-1.0, 1.0), maj=[-1.0, -0.5, 0.0, 0.5, 1.0], step=0.1, nd=1,
         label=[("q", 25, "italic", 13, 0), ("(", 25, "normal", 8.5, 0),
                ("z", 25, "italic", 10.5, 0), (")", 25, "normal", 8.5, 0)],
         lab_x=30),
]

SAMPLES = [
    dict(d=dchi2_u3, fde=fde_u3, om=om_u3, q=q_u3, cb=cbar_u3, cbt=cbar_ticks_u3, cbm=0.2,
         best=dict(fde=best_fde_u3, om=best_om_u3, q=best_q_u3)),
    dict(d=dchi2_u3p, fde=fde_u3p, om=om_u3p, q=q_u3p, cb=cbar_u3p, cbt=cbar_ticks_u3p, cbm=0.5,
         best=dict(fde=best_fde_u3p, om=best_om_u3p, q=best_q_u3p)),
]
LCDM = dict(fde=lcdm_fde, om=lcdm_om, q=lcdm_q)
LEGEND_LOC = [(345, 164), (327, 163)]


def edge_ticks(p, lo_y, hi_y, y_maj, y_min):
    """Inward ticks on all four sides of a panel frame."""
    kw = dict(length_units="screen", line_color="black", line_width=1)
    for vals, ln in ((X_MAJ, 6), (X_MIN, 3)):
        n = len(vals)
        p.ray(x=vals, y=[hi_y] * n, length=ln, angle=-np.pi / 2, **kw)
        p.ray(x=vals, y=[lo_y] * n, length=ln, angle=np.pi / 2, **kw)
    for vals, ln in ((y_maj, 6), (y_min, 3)):
        n = len(vals)
        p.ray(x=[0.0] * n, y=vals, length=ln, angle=0.0, **kw)
        p.ray(x=[Z_MAX] * n, y=vals, length=ln, angle=np.pi, **kw)


def build_panel(c, r):
    spec = ROWS[r]
    data = SAMPLES[c]
    lo_y, hi_y = spec["yr"]
    top, bot = PANELS_Y[r]
    p = figure(frame_width=PANEL_W, frame_height=bot - top,
               x_range=Range1d(0.0, Z_MAX), y_range=Range1d(lo_y, hi_y),
               min_border_left=0, min_border_right=0 if c == 0 else 1,
               min_border_top=top if r == 0 else 0, min_border_bottom=0,
               x_axis_location=None, y_axis_location=None,
               output_backend="svg", toolbar_location=None)
    p.grid.visible = False
    p.outline_line_color = "black"
    p.outline_line_width = 1
    p.background_fill_color = "white"
    p.border_fill_color = "white"

    if spec["name"] == "q":
        p.add_layout(Span(location=0.0, dimension="width", line_color="#e2e2e2",
                          line_width=2, level="underlay"))

    # sample curves, poorest fits first so the best ones end up on top
    d = np.array(data["d"])
    order = np.argsort(-d)
    curves = data[spec["name"]]
    src = ColumnDataSource(dict(xs=[z_grid for _ in order],
                                ys=[curves[i] for i in order],
                                d=[float(d[i]) for i in order]))
    lo_c, hi_c = data["cb"]
    p.multi_line("xs", "ys", source=src, line_width=1.1, line_alpha=0.9,
                 line_color=linear_cmap("d", Inferno256, lo_c, hi_c))

    r_lcdm = p.line(z_grid, LCDM[spec["name"]], line_color="black", line_width=1.3,
                    line_dash="4 2")
    r_best = p.line(z_grid, data["best"][spec["name"]], line_color=TEAL, line_width=3.5)

    edge_ticks(p, lo_y, hi_y, spec["maj"], minor_list(lo_y, hi_y, spec["step"]))

    if r == 0:
        p.title.text = titles[c]
        p.title.align = "center"
        p.title.text_font = SERIF
        p.title.text_font_size = "21px"
        p.title.text_font_style = "normal"
        p.title.text_color = "black"
        p.title.standoff = 2
        leg = Legend(items=[LegendItem(label="Bestfit \u039bCDM", renderers=[r_lcdm]),
                            LegendItem(label="Bestfit w(z)", renderers=[r_best])],
                     location=LEGEND_LOC[c], label_text_font=SERIF, label_text_font_size="19px",
                     glyph_width=42, glyph_height=22, label_height=22, spacing=2, padding=8,
                     margin=0, label_standoff=14, border_line_color="#cccccc",
                     border_line_width=1, background_fill_color="white",
                     background_fill_alpha=0.8)
        p.add_layout(leg)
    return p


def build_left_strip():
    """y tick labels and y-axis titles of the left column."""
    p = figure(frame_width=LEFT_W, frame_height=TOP_H, x_range=Range1d(0, LEFT_W),
               y_range=Range1d(0, TOP_H), min_border_left=0, min_border_right=0,
               min_border_top=0, min_border_bottom=0, x_axis_location=None,
               y_axis_location=None, output_backend="svg", toolbar_location=None)
    p.grid.visible = False
    p.outline_line_color = None
    ranges = {}
    scales = {}
    for spec, (top, bot) in zip(ROWS, PANELS_Y):
        lo, hi = spec["yr"]
        s = (bot - top) / (hi - lo)
        scales[spec["name"]] = s
        ranges[spec["name"]] = Range1d(lo - (TOP_H - bot) / s, hi + top / s)
    p.extra_y_ranges = ranges

    for spec, (top, bot) in zip(ROWS, PANELS_Y):
        majors = list(spec["maj"])
        inner = [v for v in majors if not (spec["name"] == "q" and v == -1.0)]
        txt(p, [LEFT_W - 4] * len(inner), inner, [fmt(v, spec["nd"]) for v in inner], 14,
            align="right", y_range_name=spec["name"])
        if spec["name"] == "q":
            # lowest label sits just above the bottom edge of the strip
            txt(p, [LEFT_W - 4], [-1.0 + 3.0 / scales["q"]], [fmt(-1.0, 1)], 14,
                align="right", baseline="bottom", y_range_name="q")
        # rotated axis title built from pieces (italic symbols, upright subscript)
        centre = TOP_H - (top + bot) / 2.0
        total = sum(pc[3] for pc in spec["label"])
        pos = centre - total / 2.0
        for text, size, style, adv, shift in spec["label"]:
            txt(p, [spec["lab_x"] + shift], [pos], [text], size, align="left",
                baseline="alphabetic", style=style, angle=np.pi / 2)
            pos += adv
    return p


def build_bottom():
    """x tick labels, z labels and both colour bars."""
    p = figure(frame_width=W_TOTAL, frame_height=BOTTOM_H, x_range=Range1d(0, W_TOTAL),
               y_range=Range1d(0, BOTTOM_H), min_border_left=0, min_border_right=0,
               min_border_top=0, min_border_bottom=0, x_axis_location=None,
               y_axis_location=None, output_backend="svg", toolbar_location=None)
    p.grid.visible = False
    p.outline_line_color = None
    sy = lambda screen_y: H_TOTAL - screen_y

    s = PANEL_W / Z_MAX
    x0s = [LEFT_W, LEFT_W + PANEL_W]
    extra = {}
    for c, x0 in enumerate(x0s):
        extra[f"z{c}"] = Range1d(-x0 / s, (W_TOTAL - x0) / s)
    for c, data in enumerate(SAMPLES):
        lo, hi = data["cb"]
        a, b = CBAR_X[c]
        sc = (b - a) / (hi - lo)
        extra[f"cb{c}"] = Range1d(lo - a / sc, hi + (W_TOTAL - b) / sc)
    p.extra_x_ranges = extra

    for c in range(2):
        # x tick labels and axis title
        txt(p, X_MAJ, [sy(663)] * len(X_MAJ), [fmt(v, 1) for v in X_MAJ], 14,
            x_range_name=f"z{c}")
        txt(p, [Z_MAX / 2], [sy(688)], ["z"], 24, style="italic", x_range_name=f"z{c}")

        # colour bar
        data = SAMPLES[c]
        lo, hi = data["cb"]
        mapper = LinearColorMapper(palette=Inferno256, low=lo, high=hi)
        p.image(image=[np.linspace(lo, hi, 512).reshape(1, -1)], x=lo, y=sy(728),
                dw=hi - lo, dh=28, color_mapper=mapper, x_range_name=f"cb{c}")
        p.quad(left=[lo], right=[hi], bottom=[sy(728)], top=[sy(700)], fill_color=None,
               line_color="black", line_width=1, x_range_name=f"cb{c}")
        majors = [float(v) for v in data["cbt"]]
        minors = minor_list(lo, hi, data["cbm"])
        p.segment(x0=majors, x1=majors, y0=[sy(728)] * len(majors),
                  y1=[sy(728) + 5] * len(majors), line_color="black", line_width=1,
                  x_range_name=f"cb{c}")
        p.segment(x0=minors, x1=minors, y0=[sy(728)] * len(minors),
                  y1=[sy(728) + 2.5] * len(minors), line_color="black", line_width=1,
                  x_range_name=f"cb{c}")
        txt(p, majors, [sy(738)] * len(majors), [fmt(v, 0) for v in majors], 14,
            x_range_name=f"cb{c}")
        txt(p, [(lo + hi) / 2], [sy(757)], ["\u0394\u03c7\u00b2"], 21, x_range_name=f"cb{c}")
    return p


panel_rows = [row(build_panel(0, r), build_panel(1, r)) for r in range(3)]
top_block = row(build_left_strip(), column(*panel_rows))
layout = column(top_block, build_bottom())

with open("out.html", "w") as fh:
    fh.write(file_html(layout, INLINE, "w(z) reconstruction"))
